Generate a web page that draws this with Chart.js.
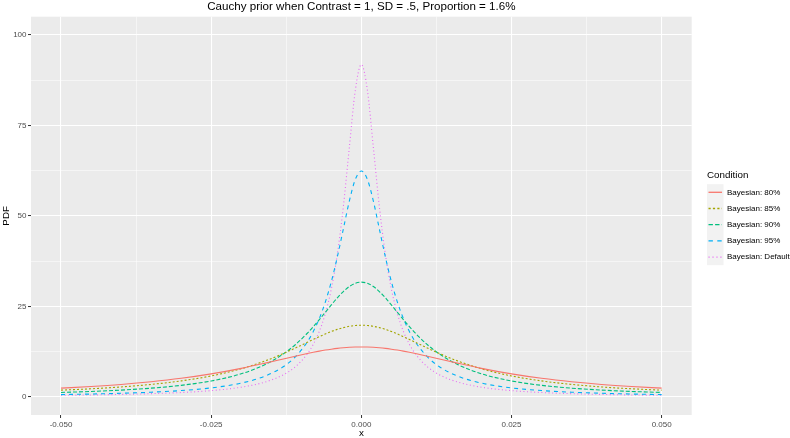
<!DOCTYPE html>
<html>
<head>
<meta charset="utf-8">
<script src="https://cdn.jsdelivr.net/npm/chart.js@4/dist/chart.umd.min.js"></script>
<style>
  html, body { margin: 0; padding: 0; background: #ffffff; }
  #wrap { position: relative; width: 790px; height: 438px; }
</style>
</head>
<body>
<div id="wrap"><canvas id="c" width="790" height="438"></canvas></div>
<script>
// ---- data ----
const chartTitle = "Cauchy prior when Contrast = 1, SD = .5, Proportion = 1.6%";
const xTitle = "x";
const yTitle = "PDF";
const legendTitle = "Condition";
const seriesNames = ["Bayesian: 80%", "Bayesian: 85%", "Bayesian: 90%", "Bayesian: 95%", "Bayesian: Default"];

const xValues = [-0.05, -0.045, -0.04, -0.035, -0.03, -0.025, -0.02, -0.016, -0.013, -0.011, -0.009, -0.008, -0.007, -0.006, -0.005, -0.004, -0.003, -0.002, -0.001, 0,
  0.001, 0.002, 0.003, 0.004, 0.005, 0.006, 0.007, 0.008, 0.009, 0.011, 0.013, 0.016, 0.02, 0.025, 0.03, 0.035, 0.04, 0.045, 0.05];

const bayes80 = [2.42, 2.87, 3.44, 4.18, 5.13, 6.35, 7.88, 9.32, 10.47, 11.24, 11.98, 12.32, 12.64, 12.93, 13.18, 13.40, 13.57, 13.70, 13.77, 13.8,
  13.77, 13.70, 13.57, 13.40, 13.18, 12.93, 12.64, 12.32, 11.98, 11.24, 10.47, 9.32, 7.88, 6.35, 5.13, 4.18, 3.44, 2.87, 2.42];
const bayes85 = [1.86, 2.24, 2.75, 3.45, 4.42, 5.79, 7.77, 9.95, 11.97, 13.49, 15.08, 15.87, 16.64, 17.38, 18.05, 18.65, 19.13, 19.50, 19.72, 19.8,
  19.72, 19.50, 19.13, 18.65, 18.05, 17.38, 16.64, 15.87, 15.08, 13.49, 11.97, 9.95, 7.77, 5.79, 4.42, 3.45, 2.75, 2.24, 1.86];
const bayes90 = [1.23, 1.50, 1.88, 2.41, 3.19, 4.40, 6.38, 8.96, 11.85, 14.41, 17.58, 19.39, 21.33, 23.36, 25.40, 27.36, 29.10, 30.49, 31.39, 31.7,
  31.39, 30.49, 29.10, 27.36, 25.40, 23.36, 21.33, 19.39, 17.58, 14.41, 11.85, 8.96, 6.38, 4.40, 3.19, 2.41, 1.88, 1.50, 1.23];
const bayes95 = [0.64, 0.79, 1.00, 1.30, 1.75, 2.49, 3.81, 5.76, 8.33, 11.04, 15.17, 18.04, 21.64, 26.18, 31.83, 38.64, 46.36, 54.09, 60.09, 62.4,
  60.09, 54.09, 46.36, 38.64, 31.83, 26.18, 21.64, 18.04, 15.17, 11.04, 8.33, 5.76, 3.81, 2.49, 1.75, 1.30, 1.00, 0.79, 0.64];
const bayesDefault = [0.44, 0.54, 0.68, 0.89, 1.21, 1.73, 2.68, 4.12, 6.10, 8.30, 11.87, 14.52, 18.09, 22.98, 29.81, 39.39, 52.50, 68.88, 84.75, 91.8,
  84.75, 68.88, 52.50, 39.39, 29.81, 22.98, 18.09, 14.52, 11.87, 8.30, 6.10, 4.12, 2.68, 1.73, 1.21, 0.89, 0.68, 0.54, 0.44];

const xTickValues = [-0.05, -0.025, 0, 0.025, 0.05];
const xTickLabels = ["-0.050", "-0.025", "0.000", "0.025", "0.050"];
const xMinorTicks = [-0.0375, -0.0125, 0.0125, 0.0375];
const yTickValues = [0, 25, 50, 75, 100];
const yTickLabels = ["0", "25", "50", "75", "100"];
const yMinorTicks = [12.5, 37.5, 62.5, 87.5];

// ---- styles ----
const colors = ["#F8766D", "#A3A500", "#00BF7D", "#00B0F6", "#E76BF3"];
const dashes = [[], [2, 2], [4, 2], [4, 4], [1, 2.6]];
const allSeries = [bayes80, bayes85, bayes90, bayes95, bayesDefault];
const FONT = "'Liberation Sans', Arial, Helvetica, sans-serif";

const datasets = allSeries.map((vals, i) => ({
  label: seriesNames[i],
  data: xValues.map((x, j) => ({ x: x, y: vals[j] })),
  borderColor: colors[i],
  backgroundColor: colors[i],
  borderDash: dashes[i],
  borderWidth: 1.1,
  pointRadius: 0,
  fill: false,
  showLine: true,
  cubicInterpolationMode: 'monotone'
}));

function isMajor(v, majors) { return majors.some(m => Math.abs(m - v) < 1e-9); }

const bgPlugin = {
  id: 'bg',
  beforeDraw(chart) {
    const { ctx, chartArea: a } = chart;
    ctx.save();
    ctx.fillStyle = '#ffffff';
    ctx.fillRect(0, 0, chart.width, chart.height);
    ctx.fillStyle = '#EBEBEB';
    ctx.fillRect(a.left, a.top, a.right - a.left, a.bottom - a.top);
    ctx.restore();
  }
};

const textPlugin = {
  id: 'texts',
  afterDraw(chart) {
    const { ctx, chartArea: a } = chart;
    ctx.save();
    ctx.fillStyle = '#000000';
    ctx.textBaseline = 'middle';
    // title
    ctx.font = "11.6px " + FONT;
    ctx.textAlign = 'center';
    ctx.fillText(chartTitle, (a.left + a.right) / 2, 7);
    // axis titles
    ctx.font = "9.8px " + FONT;
    ctx.fillText(xTitle, (a.left + a.right) / 2, 433);
    ctx.save();
    ctx.translate(6.5, (a.top + a.bottom) / 2);
    ctx.rotate(-Math.PI / 2);
    ctx.fillText(yTitle, 0, 0);
    ctx.restore();
    // legend
    const lx = 707, titleY = 175, firstY = 192.3, step = 16.2, keyW = 16.5, keyH = 16.2;
    ctx.textAlign = 'left';
    ctx.font = "9.8px " + FONT;
    ctx.fillText(legendTitle, lx, titleY);
    ctx.fillStyle = '#F2F2F2';
    ctx.fillRect(lx, firstY - keyH / 2, keyW, keyH * seriesNames.length);
    for (let i = 0; i < seriesNames.length; i++) {
      const cy = firstY + i * step;
      ctx.save();
      ctx.strokeStyle = colors[i];
      ctx.lineWidth = 1.3;
      ctx.lineCap = 'butt';
      ctx.setLineDash(dashes[i].map(d => d * 1.1));
      ctx.beginPath();
      ctx.moveTo(lx + 1.5, cy);
      ctx.lineTo(lx + keyW - 1.5, cy);
      ctx.stroke();
      ctx.restore();
      ctx.fillStyle = '#000000';
      ctx.font = "8px " + FONT;
      ctx.fillText(seriesNames[i], lx + keyW + 3.5, cy);
    }
    ctx.restore();
  }
};

new Chart(document.getElementById('c'), {
  type: 'scatter',
  data: { datasets: datasets },
  plugins: [bgPlugin, textPlugin],
  options: {
    responsive: false,
    animation: false,
    devicePixelRatio: 1,
    layout: { padding: { left: 0, top: 16.7, right: 98.3, bottom: 0 } },
    plugins: { legend: { display: false }, title: { display: false }, tooltip: { enabled: false } },
    scales: {
      x: {
        type: 'linear',
        min: -0.055,
        max: 0.055,
        afterBuildTicks(scale) {
          scale.ticks = xTickValues.concat(xMinorTicks).sort((p, q) => p - q).map(v => ({ value: v }));
        },
        afterFit(scale) { scale.height = 23; },
        border: { display: false },
        grid: {
          color: '#FFFFFF',
          lineWidth: ctx => isMajor(ctx.tick.value, xTickValues) ? 1.07 : 0.53,
          tickColor: ctx => isMajor(ctx.tick.value, xTickValues) ? '#333333' : 'rgba(0,0,0,0)',
          tickLength: 3,
          tickWidth: 1
        },
        ticks: {
          autoSkip: false,
          maxRotation: 0,
          padding: 1.5,
          color: '#4D4D4D',
          font: { size: 8, family: FONT },
          callback: (v) => { const k = xTickValues.findIndex(m => Math.abs(m - v) < 1e-9); return k >= 0 ? xTickLabels[k] : ''; }
        }
      },
      y: {
        type: 'linear',
        min: -5,
        max: 105,
        afterBuildTicks(scale) {
          scale.ticks = yTickValues.concat(yMinorTicks).sort((p, q) => p - q).map(v => ({ value: v }));
        },
        afterFit(scale) { scale.width = 31; },
        border: { display: false },
        grid: {
          color: '#FFFFFF',
          lineWidth: ctx => isMajor(ctx.tick.value, yTickValues) ? 1.07 : 0.53,
          tickColor: ctx => isMajor(ctx.tick.value, yTickValues) ? '#333333' : 'rgba(0,0,0,0)',
          tickLength: 3,
          tickWidth: 1
        },
        ticks: {
          autoSkip: false,
          padding: 1.5,
          color: '#4D4D4D',
          font: { size: 8, family: FONT },
          callback: (v) => { const k = yTickValues.findIndex(m => Math.abs(m - v) < 1e-9); return k >= 0 ? yTickLabels[k] : ''; }
        }
      }
    }
  }
});
</script>
</body>
</html>
